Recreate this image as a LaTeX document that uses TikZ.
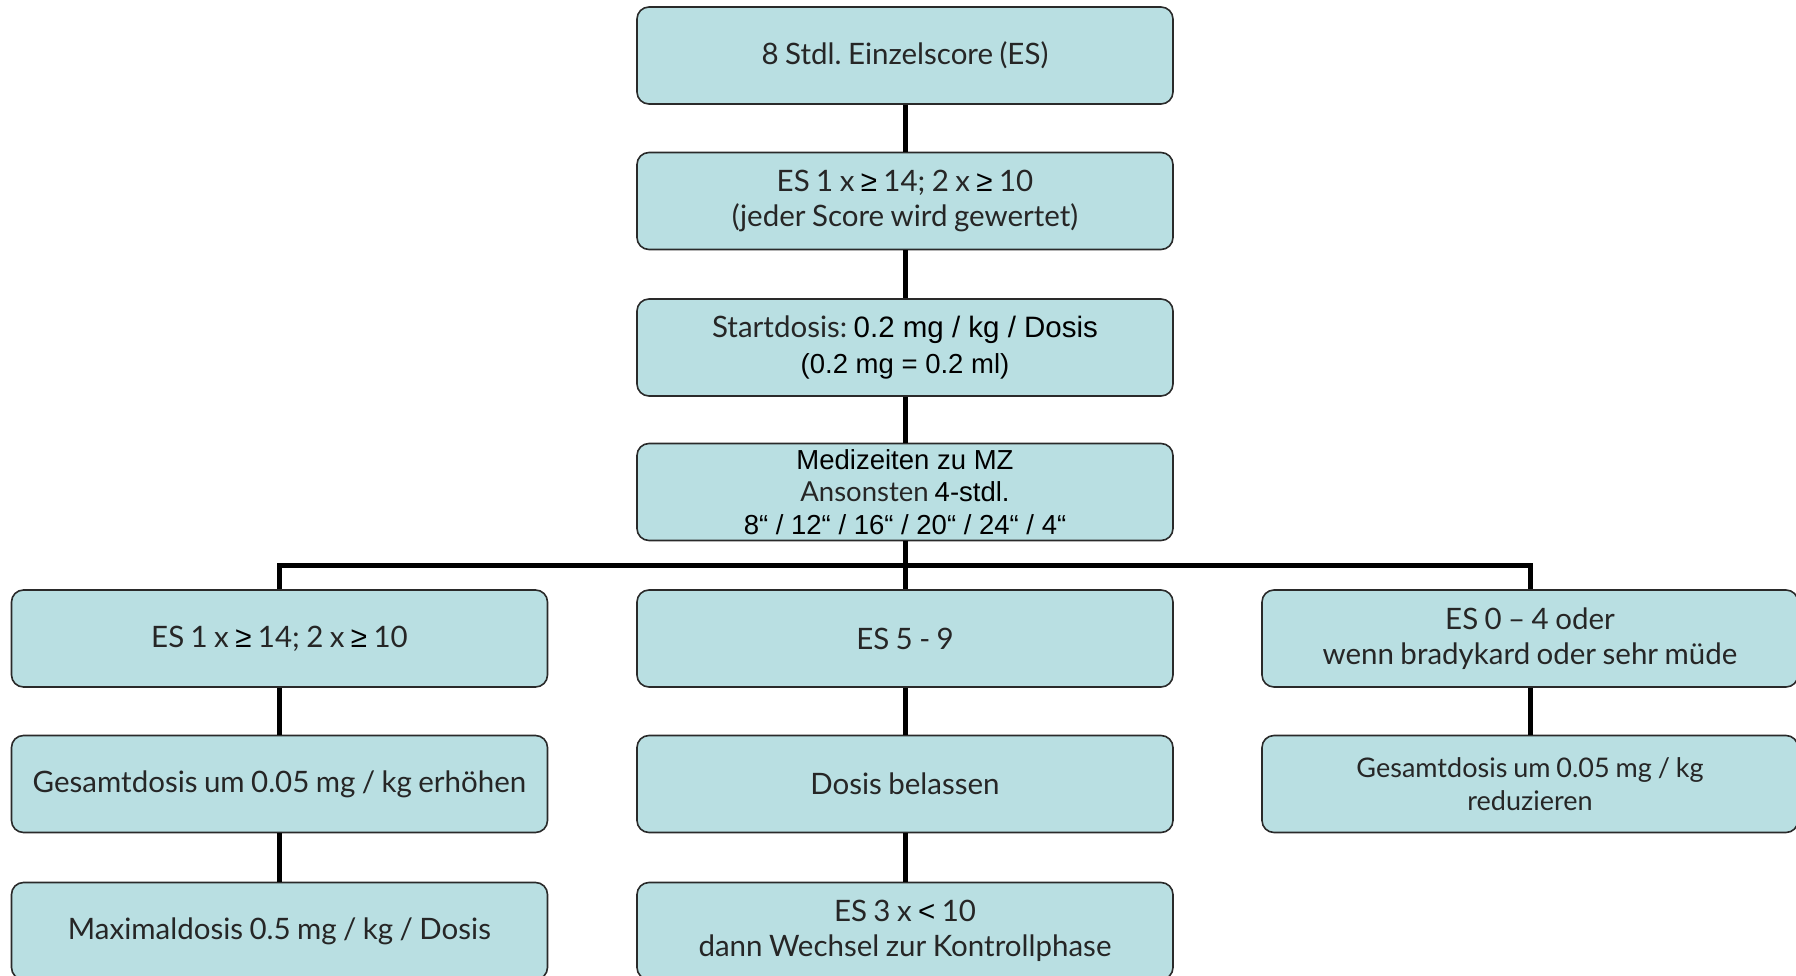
\documentclass[tikz,border=0pt]{standalone}
\usepackage{fontspec}
\setmainfont{Lato}[WordSpace=0.85]
\newfontfamily\arialfam{Liberation Sans}
\newcommand{\ar}[1]{{\arialfam\color{black}#1}}
\frenchspacing
\definecolor{boxfill}{HTML}{B9DFE2}
\definecolor{boxline}{HTML}{2A2A2A}
\definecolor{txt}{HTML}{262626}
\begin{document}
\begin{tikzpicture}[x=1pt,y=1pt,
  fbox/.style={draw=boxline, line width=1.6pt, fill=boxfill, rounded corners=12pt,
    minimum width=536pt, minimum height=97pt, align=center, text=txt, inner sep=0pt,
    font=\fontsize{29.5}{35.5}\selectfont},
  conn/.style={line width=5pt, black}]
\useasboundingbox (0,0) rectangle (1796,-976);
\clip (0,0) rectangle (1796,-976);
% column x: L=279.5, M=905, R=1530
\node[fbox] (top) at (905,-55.5) {8 Stdl. Einzelscore (ES)};
\node[fbox] (crit) at (905,-201) {ES 1 x \ar{≥} 14; 2 x \ar{≥} 10\\(jeder Score wird gewertet)};
\node[fbox] (start) at (905,-347.5) {Startdosis: \ar{0.2 mg / kg / Dosis}\\\ar{\fontsize{27.5}{35.5}\selectfont (0.2 mg = 0.2 ml)}};
\node[fbox, font=\fontsize{27.5}{32.5}\selectfont] (medi) at (905,-492) {\ar{Medizeiten zu MZ}\\Ansonsten \ar{4-stdl.}\\\ar{8“ / 12“ / 16“ / 20“ / 24“ / 4“}};
\node[fbox] (l1) at (279.5,-638.5) {ES 1 x \ar{≥} 14; 2 x \ar{≥} 10};
\node[fbox] (m1) at (905,-638.5) {ES 5 - 9};
\node[fbox] (r1) at (1530,-638.5) {ES 0 – 4 oder\\wenn bradykard oder sehr müde};
\node[fbox] (l2) at (279.5,-784) {Gesamtdosis um 0.05 mg / kg erhöhen};
\node[fbox] (m2) at (905,-784) {Dosis belassen};
\node[fbox, font=\fontsize{27}{33.5}\selectfont] (r2) at (1530,-784) {Gesamtdosis um 0.05 mg / kg\\reduzieren};
\node[fbox] (l3) at (279.5,-931) {Maximaldosis 0.5 mg / kg / Dosis};
\node[fbox] (m3) at (905,-931) {ES 3 x \ar{<} 10\\dann Wechsel zur Kontrollphase};
\coordinate (bar) at (905,-565);
\draw[conn] (top.south) -- (crit.north);
\draw[conn] (crit.south) -- (start.north);
\draw[conn] (start.south) -- (medi.north);
\draw[conn] (medi.south) -- (m1.north);
\draw[conn, line join=miter] (l1.north) |- (bar) -| (r1.north);
\draw[conn] (l1.south) -- (l2.north);
\draw[conn] (l2.south) -- (l3.north);
\draw[conn] (m1.south) -- (m2.north);
\draw[conn] (m2.south) -- (m3.north);
\draw[conn] (r1.south) -- (r2.north);
\end{tikzpicture}
\end{document}
